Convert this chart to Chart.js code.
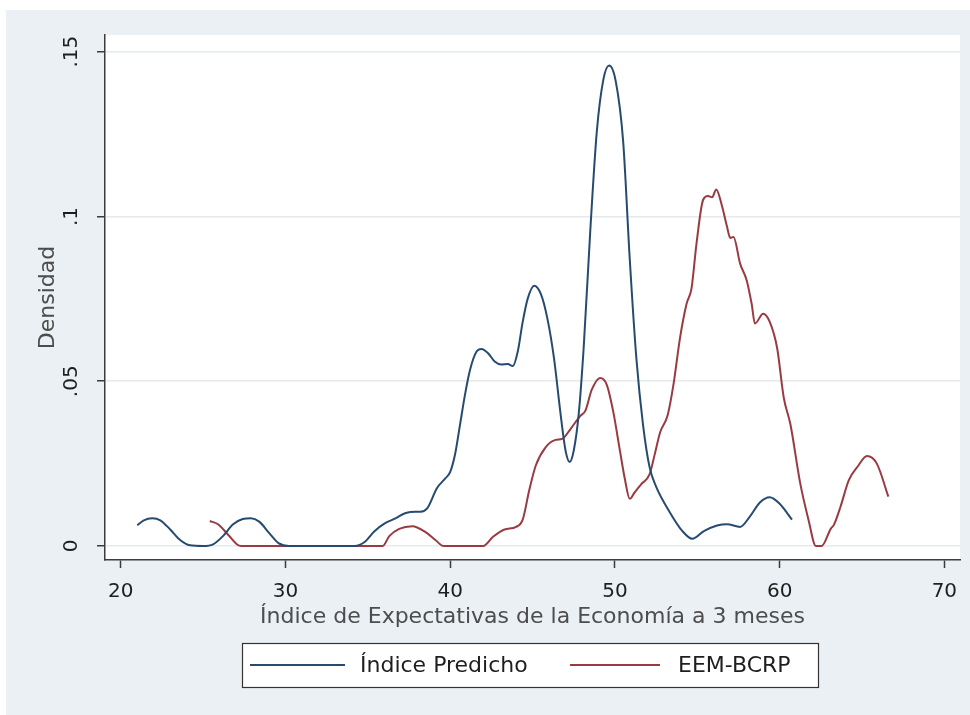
<!DOCTYPE html>
<html>
<head>
<meta charset="utf-8">
<script src="https://cdn.jsdelivr.net/npm/chart.js@4"></script>
<style>
  html, body { margin: 0; padding: 0; background: #ffffff; }
  canvas { display: block; }
</style>
</head>
<body>
<canvas id="chart" width="970" height="715"></canvas>
<script>
// Kernel density estimates of the 3-month economic expectations index
const seriesLabels = ['Índice Predicho', 'EEM-BCRP'];

const xTicks = [20, 30, 40, 50, 60, 70];
const yTicks = [0, 0.05, 0.1, 0.15];

// Índice Predicho: evaluation points and density
const predX = [21.0, 21.4, 21.9, 22.4, 23.0, 23.6, 24.2, 25.0, 25.6, 26.2, 26.8, 27.4, 27.9, 28.4, 29.0, 29.6, 30.2,
  34.2, 34.8, 35.4, 36.0, 36.6, 37.3, 37.9, 38.2, 38.6, 39.2, 39.7, 40.0, 40.3, 40.6, 40.9, 41.2, 41.6, 41.9, 42.3, 42.7,
  43.1, 43.5, 43.8, 44.1, 44.4, 44.7, 45.1, 45.5, 45.9, 46.3, 46.7, 47.0, 47.25, 47.5, 47.8, 48.1, 48.5, 48.9, 49.3,
  49.65, 50.05, 50.5, 50.9, 51.3, 51.7, 52.1, 52.5, 53.3, 54.1, 54.7, 55.4, 56.2, 56.8, 57.6, 58.2, 58.8, 59.4, 60.0, 60.75];
const predY = [0.0063, 0.0078, 0.0084, 0.0078, 0.0050, 0.0018, 0.0002, 0.0, 0.0005, 0.0030, 0.0065, 0.0082, 0.0084, 0.0074, 0.0040, 0.0008, 0.0,
  0.0, 0.0012, 0.0045, 0.0068, 0.0082, 0.0100, 0.0104, 0.0104, 0.0114, 0.0176, 0.0205, 0.0225, 0.0280, 0.0370, 0.0460, 0.0534, 0.0590, 0.0598, 0.0585, 0.0560,
  0.0551, 0.0552, 0.0546, 0.0590, 0.0680, 0.0750, 0.0790, 0.0765, 0.0690, 0.0570, 0.0400, 0.0290, 0.0255, 0.0290, 0.0400, 0.0600, 0.0954, 0.1258, 0.1416,
  0.1458, 0.1410, 0.1227, 0.0870, 0.0570, 0.0370, 0.0240, 0.0180, 0.0105, 0.0045, 0.0022, 0.0045, 0.0062, 0.0066, 0.0058, 0.0090, 0.0132, 0.0148, 0.0128, 0.0080];

// EEM-BCRP: evaluation points and density
const eemX = [25.4, 25.9, 26.5, 27.1, 27.3, 35.9, 36.3, 36.9, 37.7, 38.5, 39.1, 39.6, 42.0, 42.6, 43.3, 44.0, 44.4, 44.8, 45.2,
  45.8, 46.4, 46.8, 47.3, 47.9, 48.2, 48.6, 49.1, 49.5, 49.9, 50.3, 50.6, 50.9, 51.2, 51.6, 52.1, 52.4, 52.75, 53.2, 53.55,
  53.95, 54.35, 54.65, 54.95, 55.35, 55.65, 55.9, 56.15, 56.5, 56.8, 57.0, 57.2, 57.6, 58.0, 58.3, 58.5, 59.0, 59.4, 59.85,
  60.25, 60.65, 61.25, 61.75, 62.2, 62.55, 63.1, 63.3, 63.7, 64.2, 64.75, 65.3, 65.9, 66.6];
const eemY = [0.0076, 0.0066, 0.0035, 0.0003, 0.0, 0.0, 0.0030, 0.0052, 0.0060, 0.0042, 0.0018, 0.0, 0.0, 0.0028, 0.0050, 0.0058, 0.0080, 0.0170, 0.0245,
  0.0300, 0.0322, 0.0325, 0.0355, 0.0395, 0.0410, 0.0475, 0.0510, 0.0490, 0.0407, 0.0290, 0.0204, 0.0143, 0.0163, 0.0188, 0.0217, 0.0275, 0.0346, 0.0397, 0.0489,
  0.0631, 0.0735, 0.0782, 0.0917, 0.1050, 0.1062, 0.1058, 0.1082, 0.1032, 0.0970, 0.0935, 0.0938, 0.0857, 0.0806, 0.0735, 0.0675, 0.0705, 0.0680, 0.0600,
  0.0450, 0.0370, 0.0190, 0.0080, 0.0, 0.0, 0.0052, 0.0065, 0.0120, 0.0200, 0.0242, 0.0273, 0.0250, 0.0150];

const toPoints = (xs, ys) => xs.map((x, i) => ({ x: x, y: ys[i] }));

const FONT = '"DejaVu Sans", "Liberation Sans", sans-serif';
const AXIS_COLOR = '#3c3c3c';
const LABEL_COLOR = '#1e1e1e';
const TITLE_COLOR = '#4d4d4d';

// Light blue-grey graph region with a white plot region
const backdrop = {
  id: 'backdrop',
  beforeDraw(chart) {
    const { ctx, chartArea: a } = chart;
    ctx.save();
    ctx.fillStyle = '#ffffff';
    ctx.fillRect(0, 0, chart.width, chart.height);
    ctx.fillStyle = '#eaf0f3';
    ctx.fillRect(6, 10, chart.width - 6, chart.height - 10);
    ctx.fillStyle = '#ffffff';
    ctx.fillRect(a.left, a.top, a.right - a.left, a.bottom - a.top);
    ctx.restore();
  }
};

// Boxed legend below the x-axis title
const boxLegend = {
  id: 'boxLegend',
  afterDraw(chart) {
    const ctx = chart.ctx;
    const box = { x: 242, y: 643, w: 576, h: 44 };
    const keys = [{ x0: 250, x1: 345, tx: 360 }, { x0: 570, x1: 660, tx: 678 }];
    const cy = box.y + box.h / 2;
    ctx.save();
    ctx.fillStyle = '#ffffff';
    ctx.fillRect(box.x, box.y, box.w, box.h);
    ctx.strokeStyle = '#333333';
    ctx.lineWidth = 1.2;
    ctx.strokeRect(box.x + 0.5, box.y + 0.5, box.w, box.h);
    chart.data.datasets.forEach((ds, i) => {
      const k = keys[i];
      ctx.strokeStyle = ds.borderColor;
      ctx.lineWidth = 2;
      ctx.beginPath();
      ctx.moveTo(k.x0, cy);
      ctx.lineTo(k.x1, cy);
      ctx.stroke();
      ctx.fillStyle = LABEL_COLOR;
      ctx.font = '22px ' + FONT;
      ctx.textAlign = 'left';
      ctx.textBaseline = 'middle';
      ctx.fillText(ds.label, k.tx, cy + 1);
    });
    ctx.restore();
  }
};

Chart.defaults.font.family = FONT;

new Chart(document.getElementById('chart'), {
  type: 'line',
  data: {
    datasets: [
      {
        label: seriesLabels[0],
        data: toPoints(predX, predY),
        borderColor: '#274b70',
        borderWidth: 2,
        pointRadius: 0,
        cubicInterpolationMode: 'monotone',
        fill: false
      },
      {
        label: seriesLabels[1],
        data: toPoints(eemX, eemY),
        borderColor: '#983b43',
        borderWidth: 2,
        pointRadius: 0,
        cubicInterpolationMode: 'monotone',
        fill: false
      }
    ]
  },
  options: {
    responsive: false,
    animation: false,
    events: [],
    layout: { padding: { left: 0, top: 35, right: 10, bottom: 85 } },
    plugins: {
      legend: { display: false },
      tooltip: { enabled: false }
    },
    scales: {
      x: {
        type: 'linear',
        min: 19.04,
        max: 70.95,
        afterBuildTicks: s => { s.ticks = xTicks.map(v => ({ value: v })); },
        afterFit: s => { s.height = 70; },
        ticks: { padding: 12, color: LABEL_COLOR, font: { size: 20 }, maxRotation: 0, autoSkip: false },
        grid: { drawOnChartArea: false, tickColor: AXIS_COLOR, tickLength: 8, tickWidth: 1.5 },
        border: { color: AXIS_COLOR, width: 1.5 },
        title: {
          display: true,
          text: 'Índice de Expectativas de la Economía a 3 meses',
          color: TITLE_COLOR,
          font: { size: 22 },
          padding: { top: 0, bottom: 0 }
        }
      },
      y: {
        type: 'linear',
        min: -0.00425,
        max: 0.15507,
        afterBuildTicks: s => { s.ticks = yTicks.map(v => ({ value: v })); },
        afterFit: s => { s.width = 105; },
        ticks: {
          minRotation: 90,
          maxRotation: 90,
          crossAlign: 'center',
          padding: 9,
          color: LABEL_COLOR,
          font: { size: 20 },
          callback: v => (v === 0 ? '0' : String(v).replace(/^0/, ''))
        },
        grid: { color: '#e4eaee', lineWidth: 1.5, tickColor: AXIS_COLOR, tickLength: 8, tickWidth: 1.5 },
        border: { color: AXIS_COLOR, width: 1.5 },
        title: {
          display: true,
          text: 'Densidad',
          color: TITLE_COLOR,
          font: { size: 22 },
          padding: { top: 35, bottom: 0 }
        }
      }
    }
  },
  plugins: [backdrop, boxLegend]
});
</script>
</body>
</html>
